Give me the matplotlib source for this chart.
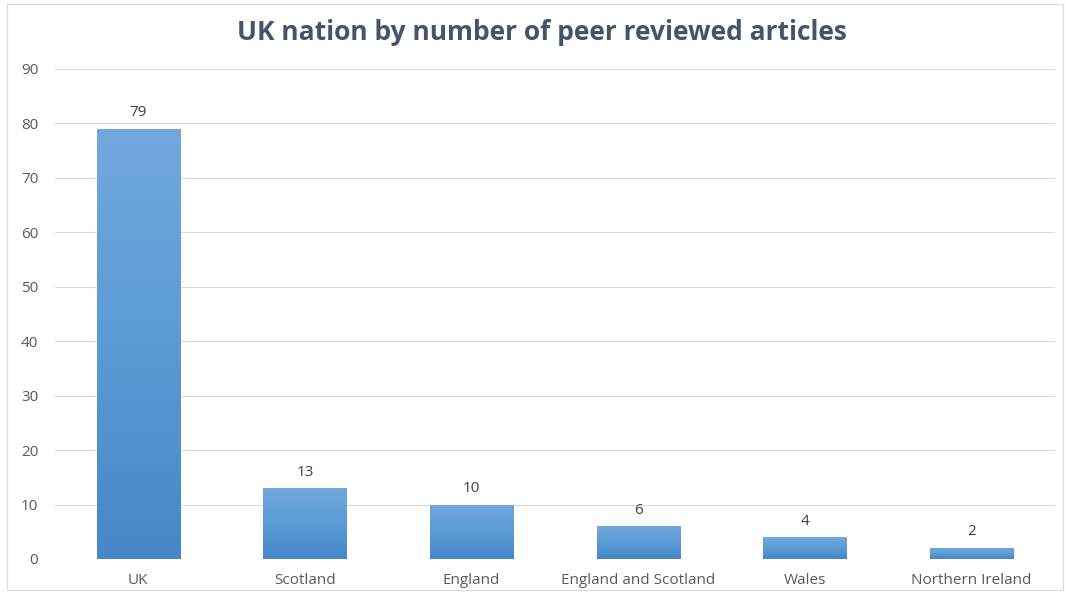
import matplotlib
matplotlib.use("Agg")
import matplotlib.pyplot as plt
import numpy as np
from matplotlib.colors import LinearSegmentedColormap
from matplotlib.patches import Rectangle

categories = ["UK", "Scotland", "England", "England and Scotland", "Wales", "Northern Ireland"]
values = [79, 13, 10, 6, 4, 2]
title = "UK nation by number of peer reviewed articles"
yticks = [0, 10, 20, 30, 40, 50, 60, 70, 80, 90]

plt.rcParams['font.family'] = ['Open Sans', 'DejaVu Sans']

fig = plt.figure(figsize=(10.65, 5.95), dpi=100)
ax = fig.add_axes([55/1065, 1-559/595, 1000/1065, 490/595])

x = np.arange(len(categories))
bars = ax.bar(x, values, width=0.5, color="#5B9BD5", zorder=2)

cmap = LinearSegmentedColormap.from_list("g", ["#4587C8", "#5B9BD5", "#72A8DE"])
grad = np.linspace(0, 1, 256).reshape(-1, 1)
for b in bars:
    xx, yy = b.get_x(), b.get_y()
    w, h = b.get_width(), b.get_height()
    im = ax.imshow(grad, cmap=cmap, aspect='auto', origin='lower',
                   extent=[xx, xx + w, yy, yy + h], zorder=3)
    im.set_clip_path(b)

for xi, v in zip(x, values):
    ax.text(xi, v + 1.6, str(v), ha='center', va='bottom', fontsize=11, color="#404040")

ax.set_xlim(-0.5, len(categories) - 0.5)
ax.set_ylim(0, 90)
ax.set_yticks(yticks)
ax.set_xticks(x)
ax.set_xticklabels(categories)
ax.tick_params(axis='both', length=0, labelsize=11, labelcolor="#595959")
ax.tick_params(axis='x', pad=10)
ax.tick_params(axis='y', pad=12)
ax.grid(axis='y', color="#D9D9D9", linewidth=0.8, zorder=0)
ax.set_axisbelow(True)
for s in ax.spines.values():
    s.set_visible(False)
ax.set_facecolor("none")

fig.text(542/1065, 1-33/595, title, ha='center', va='center', fontsize=19,
         fontweight='bold', color="#44546A")

fig.patches.append(Rectangle((7/1065, 5/595), 1056/1065, 586/595, transform=fig.transFigure,
                             fill=False, edgecolor="#D9D9D9", linewidth=0.8))

fig.savefig("out.png", dpi=100)
